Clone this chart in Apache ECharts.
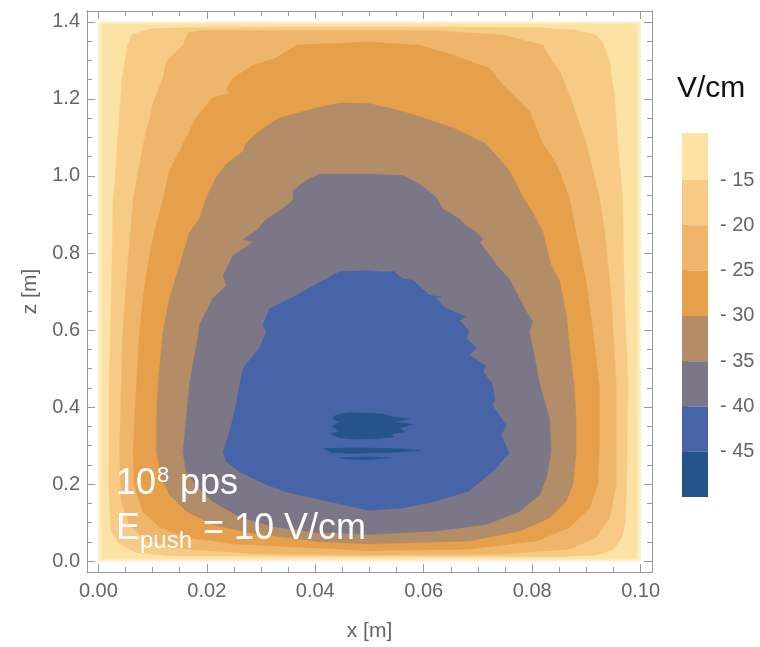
<!DOCTYPE html>
<html>
<head>
<meta charset="utf-8">
<script src="https://cdn.jsdelivr.net/npm/echarts@6/dist/echarts.min.js"></script>
<style>
html, body { margin: 0; padding: 0; background: #ffffff; }
#chart { width: 760px; height: 647px; }
</style>
</head>
<body>
<div id="chart"></div>
<script>
// Field-strength contour levels (V/cm) and the fill used inside each one
const levels = [-10, -15, -20, -25, -30, -35, -40, -45];
const bandColors = ['#FCE3A4', '#F7CB86', '#EFB66B', '#E6A04B', '#B38C68', '#7C7786', '#4664A7', '#24548A'];
const edgeColor = '#FEEDBE';
const legendRange = [-50, -9.8];
const legendTicks = [-15, -20, -25, -30, -35, -40, -45];

// Axis ticks
const xTicks = [0, 0.02, 0.04, 0.06, 0.08, 0.10];
const xMinorTicks = [0.005, 0.01, 0.015, 0.025, 0.03, 0.035, 0.045, 0.05, 0.055, 0.065, 0.07, 0.075, 0.085, 0.09, 0.095];
const zTicks = [0, 0.2, 0.4, 0.6, 0.8, 1.0, 1.2, 1.4];
const zMinorTicks = [0.05, 0.1, 0.15, 0.25, 0.3, 0.35, 0.45, 0.5, 0.55, 0.65, 0.7, 0.75, 0.85, 0.9, 0.95, 1.05, 1.1, 1.15, 1.25, 1.3, 1.35];

// Simulation domain [x, z] in metres
const domain = [[0, 0], [0.1, 0], [0.1, 1.4], [0, 1.4]];

// Iso-lines, each a closed ring of [x, z] points
const contour10 = [[0.0007, 0.006], [0.0993, 0.006], [0.0993, 1.394], [0.0007, 1.394]];

const contour15 = [[0.05, 0.011], [0.0131, 0.0137], [0.007, 0.022], [0.0039, 0.044], [0.0023, 0.078], [0.0019, 0.198],
  [0.002, 0.459], [0.0024, 0.7], [0.0027, 0.939], [0.0031, 0.99], [0.0035, 1.083], [0.0039, 1.168], [0.0044, 1.254],
  [0.0049, 1.3], [0.0054, 1.34], [0.0062, 1.368], [0.01, 1.383], [0.02, 1.386], [0.05, 1.387], [0.08, 1.386],
  [0.0881, 1.379], [0.0918, 1.366], [0.093, 1.348], [0.0943, 1.297], [0.0946, 1.26], [0.0952, 1.211], [0.0958, 1.083],
  [0.0967, 0.94], [0.097, 0.682], [0.0977, 0.459], [0.0974, 0.2], [0.0972, 0.1], [0.0965, 0.06], [0.095, 0.03],
  [0.092, 0.016], [0.085, 0.011]];

const contour20 = [[0.05, 0.0155], [0.0285, 0.019], [0.0162, 0.031], [0.0088, 0.052], [0.0057, 0.095], [0.0042, 0.155],
  [0.0039, 0.284], [0.0042, 0.455], [0.0045, 0.596], [0.0054, 0.768], [0.0064, 0.939], [0.0076, 1.031], [0.0088, 1.117],
  [0.0095, 1.15], [0.01, 1.186], [0.0119, 1.254], [0.0125, 1.297], [0.0156, 1.34], [0.0165, 1.372], [0.019, 1.378],
  [0.05, 1.379], [0.0623, 1.377], [0.0746, 1.366], [0.082, 1.34], [0.0836, 1.30], [0.0851, 1.271], [0.0869, 1.211],
  [0.09, 1.083], [0.0924, 0.945], [0.0934, 0.854], [0.0946, 0.682], [0.0955, 0.459], [0.0955, 0.198], [0.0943, 0.112],
  [0.0918, 0.061], [0.0869, 0.031], [0.0746, 0.018]];

const contour25 = [[0.05, 0.027], [0.0254, 0.044], [0.0162, 0.061], [0.0113, 0.087], [0.0082, 0.129], [0.0066, 0.198],
  [0.0064, 0.284], [0.007, 0.455], [0.0076, 0.596], [0.0082, 0.682], [0.0091, 0.768], [0.0103, 0.854], [0.0119, 0.939],
  [0.0131, 1.014], [0.0156, 1.083], [0.018, 1.151], [0.0211, 1.203], [0.0242, 1.215], [0.0236, 1.226], [0.0248, 1.254],
  [0.0285, 1.288], [0.0325, 1.305], [0.0365, 1.34], [0.05, 1.348], [0.0592, 1.34], [0.0654, 1.314], [0.0721, 1.28],
  [0.0746, 1.237], [0.0795, 1.168], [0.082, 1.083], [0.0845, 1.031], [0.0869, 0.942], [0.0881, 0.854], [0.09, 0.725],
  [0.0912, 0.596], [0.0924, 0.455], [0.0924, 0.284], [0.0921, 0.198], [0.0906, 0.138], [0.0869, 0.087], [0.0808, 0.052],
  [0.0684, 0.031]];

const contour30 = [[0.05, 0.044], [0.0408, 0.05], [0.0273, 0.075], [0.0211, 0.095], [0.0162, 0.129], [0.0131, 0.172],
  [0.0116, 0.215], [0.0107, 0.284], [0.0107, 0.37], [0.011, 0.455], [0.0119, 0.596], [0.0131, 0.682], [0.015, 0.768],
  [0.0168, 0.854], [0.0186, 0.888], [0.0199, 0.942], [0.0217, 0.997], [0.0236, 1.031], [0.0267, 1.065], [0.0272, 1.085],
  [0.0297, 1.117], [0.0334, 1.151], [0.038, 1.168], [0.041, 1.18], [0.045, 1.19], [0.05, 1.188], [0.054, 1.175],
  [0.058, 1.16], [0.0654, 1.125], [0.0715, 1.083], [0.0758, 1.014], [0.0783, 0.945], [0.0801, 0.905], [0.082, 0.854],
  [0.0835, 0.768], [0.0851, 0.725], [0.0863, 0.639], [0.0869, 0.553], [0.0877, 0.459], [0.0881, 0.37], [0.0881, 0.284],
  [0.0875, 0.198], [0.0863, 0.155], [0.0832, 0.112], [0.0777, 0.078], [0.0684, 0.052]];

const contour35 = [[0.05, 0.069], [0.04, 0.075], [0.032, 0.09], [0.026, 0.115], [0.021, 0.155], [0.018, 0.198],
  [0.0162, 0.232], [0.0156, 0.284], [0.0162, 0.37], [0.0168, 0.459], [0.0174, 0.510], [0.018, 0.553], [0.0184, 0.579],
  [0.0186, 0.613], [0.0199, 0.648], [0.0211, 0.682], [0.0236, 0.716], [0.023, 0.742], [0.0248, 0.793], [0.0285, 0.828],
  [0.0267, 0.836], [0.0291, 0.858], [0.031, 0.888], [0.0347, 0.922], [0.0359, 0.939], [0.0359, 0.962], [0.0383, 0.988],
  [0.0408, 1.005], [0.05, 1.005], [0.0561, 1.001], [0.0592, 0.98], [0.0623, 0.945], [0.0635, 0.914], [0.0647, 0.905],
  [0.0666, 0.888], [0.0678, 0.871], [0.0697, 0.854], [0.0709, 0.836], [0.0703, 0.828], [0.0727, 0.785], [0.0734, 0.768],
  [0.0758, 0.733], [0.0764, 0.716], [0.0777, 0.682], [0.0789, 0.648], [0.0801, 0.622], [0.0795, 0.596], [0.0801, 0.553],
  [0.0807, 0.510], [0.0814, 0.459], [0.0832, 0.37], [0.0835, 0.284], [0.0826, 0.215], [0.0814, 0.172], [0.0777, 0.129],
  [0.0715, 0.095], [0.0623, 0.078]];

const contour40 = [[0.05, 0.131], [0.0396, 0.164], [0.0347, 0.179], [0.031, 0.198], [0.0285, 0.215], [0.026, 0.232],
  [0.0236, 0.258], [0.023, 0.284], [0.0236, 0.310], [0.0242, 0.335], [0.0248, 0.370], [0.0254, 0.404], [0.026, 0.455],
  [0.0267, 0.502], [0.0297, 0.553], [0.031, 0.596], [0.0303, 0.613], [0.0316, 0.656], [0.0365, 0.690], [0.042, 0.733],
  [0.0445, 0.752], [0.05, 0.754], [0.0525, 0.751], [0.0545, 0.752], [0.0561, 0.733], [0.058, 0.729], [0.0611, 0.690],
  [0.0632, 0.686], [0.0623, 0.682], [0.0641, 0.656], [0.0678, 0.635], [0.0666, 0.626], [0.0684, 0.596], [0.0678, 0.579],
  [0.0697, 0.553], [0.0684, 0.536], [0.0715, 0.506], [0.0709, 0.493], [0.0727, 0.459], [0.0731, 0.421], [0.0727, 0.404],
  [0.0752, 0.3525], [0.0743, 0.327], [0.0758, 0.280], [0.0743, 0.258], [0.0734, 0.241], [0.0697, 0.198], [0.0684, 0.181],
  [0.0641, 0.164], [0.0623, 0.155], [0.0561, 0.138]];

const contour45a = [[0.0437, 0.378], [0.046, 0.385], [0.05, 0.384], [0.0525, 0.382], [0.054, 0.375], [0.0575, 0.369],
  [0.0545, 0.362], [0.058, 0.355], [0.0555, 0.345], [0.0565, 0.335], [0.054, 0.33], [0.0545, 0.322], [0.051, 0.318],
  [0.047, 0.317], [0.0445, 0.32], [0.0428, 0.33], [0.0445, 0.338], [0.043, 0.35], [0.0445, 0.36], [0.0432, 0.37]];
const contour45b = [[0.0415, 0.292], [0.047, 0.294], [0.052, 0.293], [0.056, 0.291], [0.0595, 0.287], [0.0555, 0.283],
  [0.051, 0.281], [0.047, 0.279], [0.043, 0.282]];
const contour45c = [[0.0445, 0.268], [0.05, 0.27], [0.054, 0.268], [0.05, 0.264], [0.046, 0.265]];

// Paint order: domain background, then each iso-region from the weakest field inwards
const regions = [
  { ring: domain, color: edgeColor },
  { ring: contour10, color: bandColors[0] },
  { ring: contour15, color: bandColors[1] },
  { ring: contour20, color: bandColors[2] },
  { ring: contour25, color: bandColors[3] },
  { ring: contour30, color: bandColors[4] },
  { ring: contour35, color: bandColors[5] },
  { ring: contour40, color: bandColors[6] },
  { ring: contour45a, color: bandColors[7] },
  { ring: contour45b, color: bandColors[7] },
  { ring: contour45c, color: bandColors[7] }
];

// Colour-bar segments: band k covers [levels[k+1], levels[k]]
const legendBands = bandColors.map((c, k) => [
  k === bandColors.length - 1 ? legendRange[0] : levels[k + 1],
  k === 0 ? legendRange[1] : levels[k],
  k
]);

const FONT = '"Liberation Sans", Arial, sans-serif';
const frameColor = '#9a9a9a';
const labelColor = '#666666';

const chart = echarts.init(document.getElementById('chart'), null, { renderer: 'canvas' });

const X_RANGE = [-0.0021, 0.1021];
const Z_RANGE = [-0.0284, 1.4284];

function xAxisDef(position, tickValues, tickLen, withLabels) {
  return {
    type: 'value', gridIndex: 0, position: position, min: X_RANGE[0], max: X_RANGE[1],
    axisLine: { show: true, onZero: false, lineStyle: { color: frameColor, width: 1 } },
    axisTick: { show: true, inside: true, length: tickLen, customValues: tickValues, lineStyle: { color: frameColor, width: 1 } },
    axisLabel: withLabels ? {
      show: true, customValues: xTicks, margin: 9, color: labelColor, fontSize: 20, fontFamily: FONT,
      formatter: v => v.toFixed(2)
    } : { show: false },
    splitLine: { show: false },
    name: withLabels ? 'x [m]' : '',
    nameLocation: 'middle', nameGap: 49,
    nameTextStyle: { color: labelColor, fontSize: 21, fontFamily: FONT }
  };
}
function yAxisDef(position, tickValues, tickLen, withLabels) {
  return {
    type: 'value', gridIndex: 0, position: position, min: Z_RANGE[0], max: Z_RANGE[1],
    axisLine: { show: true, onZero: false, lineStyle: { color: frameColor, width: 1 } },
    axisTick: { show: true, inside: true, length: tickLen, customValues: tickValues, lineStyle: { color: frameColor, width: 1 } },
    axisLabel: withLabels ? {
      show: true, customValues: zTicks, margin: 7, color: labelColor, fontSize: 20, fontFamily: FONT,
      formatter: v => v.toFixed(1)
    } : { show: false },
    splitLine: { show: false },
    name: withLabels ? 'z [m]' : '',
    nameLocation: 'middle', nameGap: 46, nameRotate: 90,
    nameTextStyle: { color: labelColor, fontSize: 21, fontFamily: FONT }
  };
}

// Annotation text pieces (baseline positions in px; superscript / subscript smaller)
const BIG = '36px ' + FONT;
function annotation(text, x, baseline, font, size) {
  return {
    type: 'text', z: 100, x: x, y: baseline - 0.81 * size,
    style: { text: text, fill: '#ffffff', font: font, verticalAlign: 'top', align: 'left' }
  };
}

const option = {
  backgroundColor: '#ffffff',
  animation: false,
  grid: [
    { left: 87, top: 11, width: 565, height: 565 },
    { left: 682, top: 133, width: 26, height: 364 }
  ],
  xAxis: [
    xAxisDef('bottom', xTicks, 8, true),
    xAxisDef('bottom', xMinorTicks, 5, false),
    xAxisDef('top', xTicks, 8, false),
    xAxisDef('top', xMinorTicks, 5, false),
    { type: 'value', gridIndex: 1, min: 0, max: 1, show: false }
  ],
  yAxis: [
    yAxisDef('left', zTicks, 8, true),
    yAxisDef('left', zMinorTicks, 5, false),
    yAxisDef('right', zTicks, 8, false),
    yAxisDef('right', zMinorTicks, 5, false),
    {
      type: 'value', gridIndex: 1, position: 'right', min: legendRange[0], max: legendRange[1],
      axisLine: { show: false },
      axisTick: { show: true, inside: false, length: 6, customValues: legendTicks, lineStyle: { color: '#888888', width: 1 } },
      axisLabel: {
        show: true, customValues: legendTicks, margin: 12, color: labelColor, fontSize: 20, fontFamily: FONT,
        formatter: v => '- ' + Math.abs(v)
      },
      splitLine: { show: false }
    }
  ],
  series: [
    {
      type: 'custom', name: 'field', xAxisIndex: 0, yAxisIndex: 0, silent: true, clip: true,
      data: regions.map((r, i) => [0.05, 0.7, i]),
      encode: { x: 0, y: 1 },
      renderItem: function (params, api) {
        const r = regions[params.dataIndex];
        return {
          type: 'polygon',
          shape: { points: r.ring.map(p => api.coord(p)) },
          style: { fill: r.color, stroke: r.color, lineWidth: 0.4 }
        };
      }
    },
    {
      type: 'custom', name: 'legend', xAxisIndex: 4, yAxisIndex: 4, silent: true,
      data: legendBands,
      encode: { x: -1, y: [0, 1] },
      renderItem: function (params, api) {
        const lo = api.value(0), hi = api.value(1), k = api.value(2);
        const p0 = api.coord([0, hi]);
        const p1 = api.coord([1, lo]);
        return {
          type: 'rect',
          shape: { x: p0[0], y: p0[1], width: p1[0] - p0[0], height: p1[1] - p0[1] },
          style: { fill: bandColors[k] }
        };
      }
    }
  ],
  graphic: [
    {
      type: 'text', left: 677, top: 74, z: 100,
      style: { text: 'V/cm', fill: '#111111', font: '30px ' + FONT }
    },
    {
      type: 'group', z: 100,
      children: [
        annotation('10', 116, 495, BIG, 36),
        annotation('8', 157, 483, '22px ' + FONT, 22),
        annotation('pps', 180, 495, BIG, 36),
        annotation('E', 116, 540, BIG, 36),
        annotation('push', 140, 549, '24px ' + FONT, 24),
        annotation('= 10 V/cm', 203, 540, BIG, 36)
      ]
    }
  ]
};

chart.setOption(option);
</script>
</body>
</html>
